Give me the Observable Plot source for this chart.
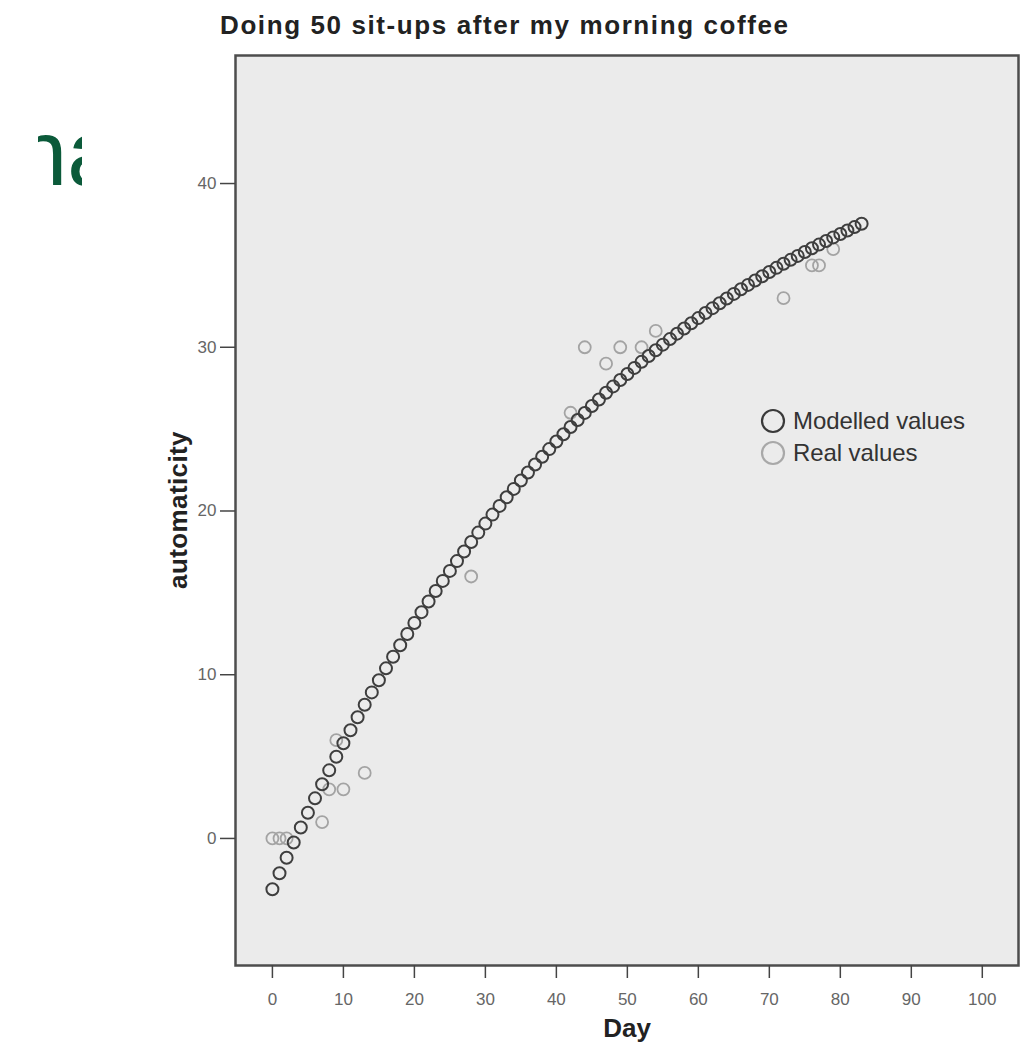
<!DOCTYPE html>
<html>
<head>
<meta charset="utf-8">
<script src="https://cdn.jsdelivr.net/npm/d3@7"></script>
<script src="https://cdn.jsdelivr.net/npm/@observablehq/plot@0.6"></script>
<style>
  html, body { margin: 0; padding: 0; background: #ffffff; }
  #wrap { position: relative; width: 1032px; height: 1044px; overflow: hidden; font-family: "Liberation Sans", Arial, sans-serif; }
  #chart { position: absolute; left: 0; top: 0; }
  .abs { position: absolute; white-space: nowrap; }
  #title { left: 220px; top: 12px; font-size: 26px; line-height: 26px; font-weight: bold; color: #222; letter-spacing: 1.6px; }
  #ylab { left: 178px; top: 510px; font-size: 26px; line-height: 26px; font-weight: bold; color: #222; transform: translate(-50%, -50%) rotate(-90deg); letter-spacing: 0.4px; }
  #xlab { left: 627px; top: 1028px; font-size: 26px; line-height: 26px; font-weight: bold; color: #222; transform: translate(-50%, -50%); }
  #clip { left: 38px; top: 128px; width: 44px; height: 62px; overflow: hidden; }
  #clip span { position: absolute; left: -22px; top: -21px; font-size: 92px; line-height: 92px; color: #0b5a3a; }
  .leg { font-size: 24px; line-height: 24px; color: #333; letter-spacing: -0.1px; }
</style>
</head>
<body>
<div id="wrap">
  <div id="chart"></div>
  <div id="title" class="abs">Doing 50 sit-ups after my morning coffee</div>
  <div id="ylab" class="abs">automaticity</div>
  <div id="xlab" class="abs">Day</div>
  <div id="clip" class="abs"><span>na</span></div>
</div>
<script>
// Modelled values: one per day, from day 0
const modelledValues = [-3.10,-2.13,-1.18,-0.25,0.67,1.57,2.45,3.31,4.16,4.99,
  5.81,6.61,7.40,8.17,8.92,9.66,10.39,11.10,11.80,12.49,
  13.16,13.82,14.47,15.11,15.73,16.34,16.94,17.53,18.11,18.68,
  19.23,19.78,20.31,20.84,21.35,21.86,22.35,22.84,23.31,23.78,
  24.24,24.69,25.13,25.56,25.99,26.41,26.81,27.22,27.61,28.00,
  28.37,28.74,29.11,29.47,29.82,30.16,30.50,30.83,31.15,31.47,
  31.78,32.09,32.39,32.69,32.98,33.26,33.54,33.81,34.08,34.34,
  34.60,34.85,35.10,35.34,35.58,35.82,36.05,36.27,36.49,36.71,
  36.92,37.13,37.34,37.54];

// Real values
const realDays   = [0, 1, 2, 7, 8, 9, 10, 13, 28, 42, 44, 47, 49, 52, 54, 72, 76, 77, 79];
const realValues = [0, 0, 0, 1, 3, 6, 3, 4, 16, 26, 30, 29, 30, 30, 31, 33, 35, 35, 36];

const xTicks = [0, 10, 20, 30, 40, 50, 60, 70, 80, 90, 100];
const yTicks = [0, 10, 20, 30, 40];
const legendLabels = ["Modelled values", "Real values"];

const modelled = modelledValues.map((v, i) => ({day: i, value: v}));
const real = realDays.map((d, i) => ({day: d, value: realValues[i]}));

const plot = Plot.plot({
  width: 1032,
  height: 1044,
  marginLeft: 235,
  marginRight: 14,
  marginTop: 55,
  marginBottom: 79,
  style: {background: "transparent", fontFamily: "'Liberation Sans', Arial, sans-serif"},
  x: {domain: [-5.2, 105.1]},
  y: {domain: [-7.76, 47.82]},
  marks: [
    Plot.frame({fill: "#ebebeb", stroke: "#4d4d4d", strokeWidth: 2.5}),
    Plot.axisY({ticks: yTicks, tickSize: 15, tickPadding: 4, fontSize: 17, stroke: "#444", fill: "#666", strokeWidth: 1.5, label: null}),
    Plot.axisX({ticks: xTicks, tickSize: 13, tickPadding: 14, fontSize: 17, stroke: "#444", fill: "#666", strokeWidth: 1.5, label: null}),
    Plot.dot(real, {x: "day", y: "value", r: 6, stroke: "#a3a3a3", strokeWidth: 1.8}),
    Plot.dot(modelled, {x: "day", y: "value", r: 6, stroke: "#3e3e3e", strokeWidth: 2})
  ]
});
document.getElementById("chart").appendChild(plot);

// Legend
const wrap = document.getElementById("wrap");
const legendColors = ["#3a3a3a", "#a8a8a8"];
const legendY = [421, 453];
legendLabels.forEach((lab, i) => {
  const s = document.createElementNS("http://www.w3.org/2000/svg", "svg");
  s.setAttribute("width", 28); s.setAttribute("height", 28);
  s.style.position = "absolute"; s.style.left = "759px"; s.style.top = (legendY[i] - 14) + "px";
  const c = document.createElementNS("http://www.w3.org/2000/svg", "circle");
  c.setAttribute("cx", 14); c.setAttribute("cy", 14); c.setAttribute("r", 11);
  c.setAttribute("fill", "none"); c.setAttribute("stroke", legendColors[i]); c.setAttribute("stroke-width", 2.2);
  s.appendChild(c);
  wrap.appendChild(s);
  const t = document.createElement("div");
  t.className = "abs leg"; t.textContent = lab;
  t.style.left = "793px"; t.style.top = (legendY[i] - 12) + "px";
  wrap.appendChild(t);
});
</script>
</body>
</html>
